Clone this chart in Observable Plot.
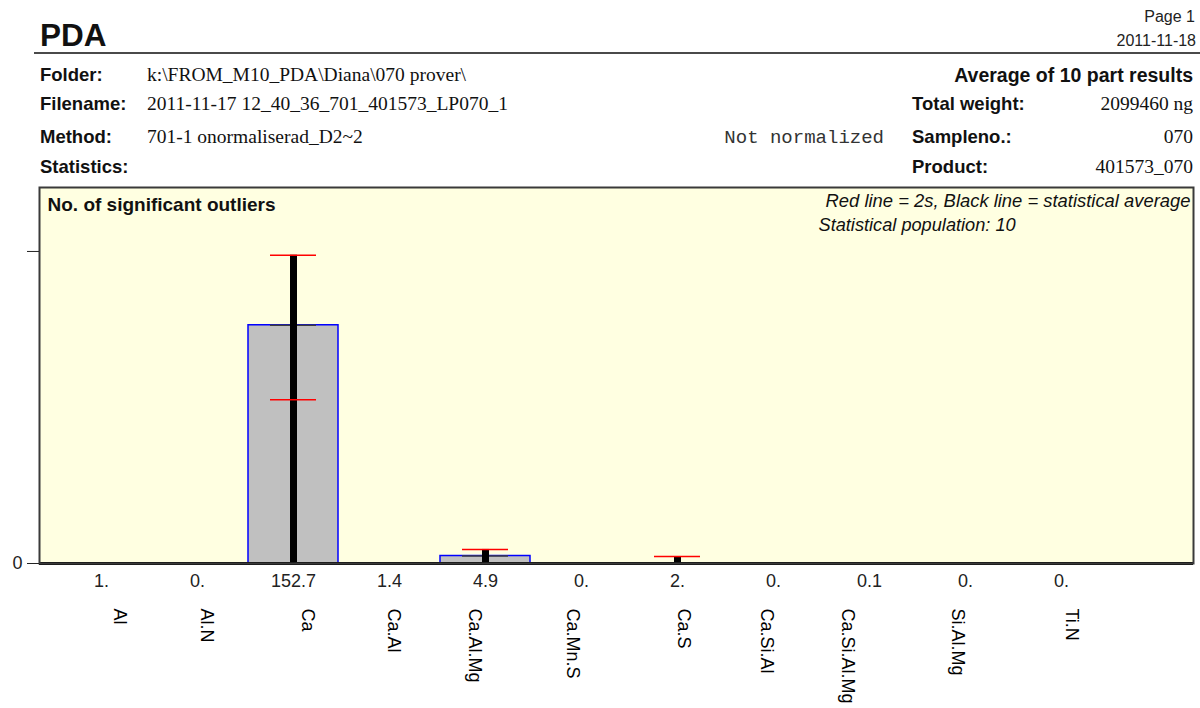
<!DOCTYPE html>
<html><head><meta charset="utf-8">
<script src="https://cdn.jsdelivr.net/npm/d3@7"></script>
<script src="https://cdn.jsdelivr.net/npm/@observablehq/plot@0.6"></script>
<style>
body{margin:0;background:#fff;}
#page{position:relative;width:1200px;height:708px;overflow:hidden;font-family:"Liberation Sans",Arial,sans-serif;color:#000;background:#fff;}
.t{position:absolute;white-space:nowrap;line-height:1;}
.b{font-weight:bold;font-size:18.5px;color:#111;}
.s{font-family:"Liberation Serif","Times New Roman",serif;font-size:19.5px;color:#111;}
#rule{position:absolute;left:34px;right:0;top:52px;height:2px;background:#4a4a4a;}
#chart{position:absolute;left:0;top:180px;}
</style></head><body><div id="page">
<div class="t b" style="left:40px;top:19.5px;font-size:31.5px;">PDA</div>
<div class="t" style="right:5px;top:9px;font-size:16px;color:#222;">Page 1</div>
<div class="t" style="right:4px;top:33px;font-size:16px;color:#222;">2011-11-18</div>
<div id="rule"></div>

<div class="t b" style="left:40px;top:66px;">Folder:</div>
<div class="t s" style="left:147px;top:65px;">k:\FROM_M10_PDA\Diana\070 prover\</div>
<div class="t b" style="right:7px;top:65.5px;font-size:19.5px;">Average of 10 part results</div>

<div class="t b" style="left:40px;top:95px;">Filename:</div>
<div class="t s" style="left:147px;top:94px;">2011-11-17 12_40_36_701_401573_LP070_1</div>
<div class="t b" style="left:912px;top:95px;">Total weight:</div>
<div class="t s" style="right:7px;top:94px;">2099460 ng</div>

<div class="t b" style="left:40px;top:127.5px;">Method:</div>
<div class="t s" style="left:147px;top:126.5px;">701-1 onormaliserad_D2~2</div>
<div class="t" style="right:316px;top:128.5px;font-family:'Liberation Mono','Courier New',monospace;font-size:19px;color:#333;">Not normalized</div>
<div class="t b" style="left:912px;top:127.5px;">Sampleno.:</div>
<div class="t s" style="right:7px;top:126.5px;">070</div>

<div class="t b" style="left:40px;top:158px;">Statistics:</div>
<div class="t b" style="left:912px;top:158px;">Product:</div>
<div class="t s" style="right:7px;top:157px;">401573_070</div>

<div id="chart"></div>
</div>
<script>
// ---- data ----
const categories = ["Al","Al.N","Ca","Ca.Al","Ca.Al.Mg","Ca.Mn.S","Ca.S","Ca.Si.Al","Ca.Si.Al.Mg","Si.Al.Mg","Ti.N"];
const valueLabels = ["1.","0.","152.7","1.4","4.9","0.","2.","0.","0.1","0.","0."];
// bar heights as drawn (bars of the small categories are not visible above the axis)
const barValues = [0, 0, 152.7, 0, 4.8, 0, 0, 0, 0, 0, 0];
const upper2s = [null, null, 197.6, null, 9.0, null, 4.5, null, null, null, null];
const lower2s = [null, null, 105.0, null, null, null, null, null, null, null, null];
const yTicks = [0, 200];
const yTickLabels = ["0", ""];

const data = categories.map((c, i) => ({cat: c, value: barValues[i], label: valueLabels[i], hi: upper2s[i], lo: lower2s[i]}));
const labelOf = new Map(data.map(d => [d.cat, d.label]));
const withHi = data.filter(d => d.hi != null);
const withLo = data.filter(d => d.lo != null);

const ctx = document.createElement("canvas").getContext("2d");
ctx.font = '18px "Liberation Sans"';
const nameMarks = categories.map(c => Plot.text([c], {
  x: d => d, frameAnchor: "bottom", rotate: 90, textAnchor: "start", lineAnchor: "middle",
  dy: 45, dx: 26 - ctx.measureText(c).width / 2, fontSize: 18, fill: "#000"
}));

const chart = Plot.plot({
  width: 1200, height: 528,
  marginTop: 7, marginBottom: 145, marginLeft: 39, marginRight: 7,
  style: {fontFamily: '"Liberation Sans", Arial, sans-serif', background: "transparent", overflow: "visible"},
  x: {type: "band", domain: categories, range: [52, 1110], paddingInner: 0.064, paddingOuter: 0.032, axis: null},
  y: {domain: [0, 241], axis: null},
  marks: [
    Plot.frame({fill: "#FFFFE1", stroke: null}),
    Plot.barY(data, {x: "cat", y: "value", fill: "#C0C0C0", stroke: "#0000FF", strokeWidth: 1.5}),
    Plot.tickY(data.filter(d => d.value > 0), {x: "cat", y: "value", stroke: "#3c3c3c", strokeWidth: 1.5, insetLeft: 22, insetRight: 22}),
    Plot.ruleX(withHi, {x: "cat", y1: 0, y2: "hi", stroke: "#000", strokeWidth: 7}),
    Plot.tickY(withHi, {x: "cat", y: "hi", stroke: "#FF0000", strokeWidth: 1.5, insetLeft: 22, insetRight: 22}),
    Plot.tickY(withLo, {x: "cat", y: "lo", stroke: "#FF0000", strokeWidth: 1.5, insetLeft: 22, insetRight: 22}),
    Plot.ruleY([0], {stroke: "#000", strokeWidth: 3}),
    Plot.frame({stroke: "#3a3a3a", strokeWidth: 2}),
    Plot.axisY({ticks: yTicks, tickSize: 12, tickPadding: 5, tickFormat: d => yTickLabels[yTicks.indexOf(d)], fontSize: 18, stroke: "#222", fill: "#222", label: null}),
    Plot.axisX({tickSize: 0, tickPadding: 11, tickFormat: d => labelOf.get(d), fontSize: 18, fill: "#222", label: null}),
    ...nameMarks,
    Plot.text(["No. of significant outliers"], {frameAnchor: "top-left", dx: 8, dy: 10, lineAnchor: "top", textAnchor: "start", fontWeight: "bold", fontSize: 19, fill: "#111"}),
    Plot.text(["Red line = 2s, Black line = statistical average"], {frameAnchor: "top-right", dx: -3, dy: 6, lineAnchor: "top", textAnchor: "end", fontStyle: "italic", fontSize: 18.4, fill: "#111"}),
    Plot.text(["Statistical population: 10"], {frameAnchor: "top-left", dx: 779, dy: 30.5, lineAnchor: "top", textAnchor: "start", fontStyle: "italic", fontSize: 18.2, fill: "#111"})
  ]
});
document.getElementById("chart").appendChild(chart);
</script>
</body></html>
